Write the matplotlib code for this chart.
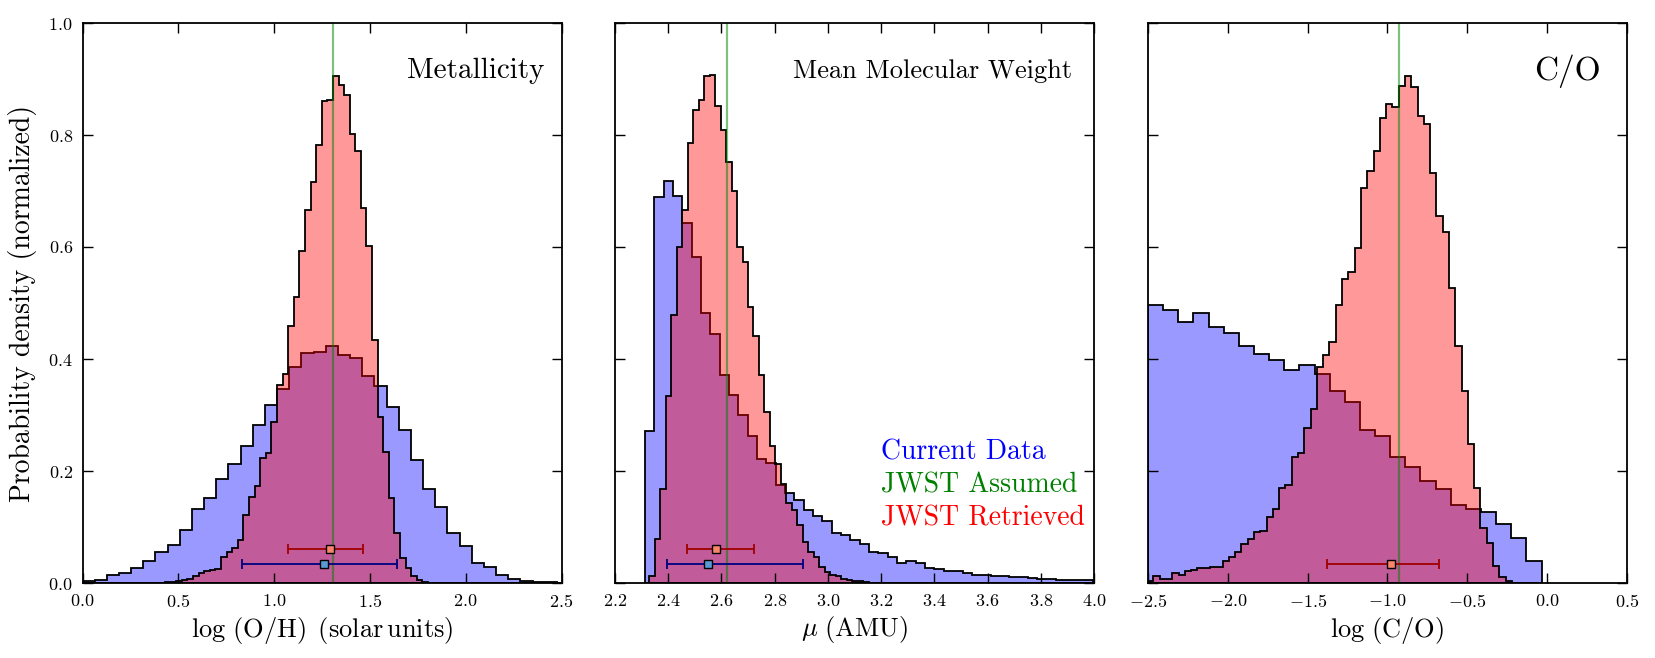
import numpy as np
import matplotlib
matplotlib.use('Agg')
from matplotlib import pyplot

pyplot.rcParams.update({
    'font.family': 'serif',
    'font.serif': ['cmr10', 'DejaVu Serif'],
    'mathtext.fontset': 'cm',
    'axes.formatter.use_mathtext': True,
    'axes.linewidth': 1.3,
})

# ---- Metallicity, log(O/H) ----
met_cur_start, met_cur_width = 0.0, 0.0635
met_cur = [0.003, 0.006, 0.015, 0.018, 0.026, 0.040, 0.055, 0.068, 0.094, 0.133,
           0.152, 0.186, 0.212, 0.245, 0.283, 0.317, 0.347, 0.385, 0.410, 0.413,
           0.423, 0.408, 0.401, 0.369, 0.351, 0.315, 0.273, 0.220, 0.167, 0.135,
           0.089, 0.066, 0.035, 0.029, 0.015, 0.008, 0.003, 0.001, 0.001, 0.0]
met_jw_start, met_jw_width = 0.431, 0.0292
met_jw = [0.001, 0.002, 0.003, 0.005, 0.008, 0.013, 0.018, 0.022, 0.024, 0.025,
          0.047, 0.056, 0.063, 0.076, 0.121, 0.153, 0.173, 0.223, 0.233, 0.288,
          0.353, 0.373, 0.459, 0.510, 0.593, 0.666, 0.716, 0.783, 0.860, 0.863,
          0.906, 0.889, 0.871, 0.801, 0.771, 0.670, 0.602, 0.434, 0.296, 0.234,
          0.152, 0.090, 0.044, 0.026, 0.012, 0.005, 0.002]

# ---- Mean molecular weight ----
mmw_cur_start, mmw_cur_width = 2.3125, 0.0351
mmw_cur = [0.272, 0.689, 0.717, 0.691, 0.643, 0.583, 0.483, 0.445, 0.371, 0.335,
           0.300, 0.263, 0.222, 0.215, 0.175, 0.160, 0.148, 0.131, 0.120, 0.110,
           0.090, 0.085, 0.077, 0.070, 0.056, 0.053, 0.046, 0.036, 0.039, 0.035,
           0.027, 0.025, 0.022, 0.021, 0.017, 0.015, 0.015, 0.013, 0.012, 0.010,
           0.010, 0.009, 0.008, 0.007, 0.006, 0.006, 0.005, 0.005, 0.004]
mmw_jw_start, mmw_jw_width = 2.329, 0.0206
mmw_jw = [0.012, 0.078, 0.167, 0.334, 0.478, 0.600, 0.666, 0.785, 0.845, 0.862,
          0.905, 0.907, 0.852, 0.809, 0.752, 0.700, 0.600, 0.574, 0.492, 0.441,
          0.372, 0.305, 0.244, 0.213, 0.176, 0.142, 0.131, 0.104, 0.073, 0.056,
          0.046, 0.029, 0.020, 0.015, 0.012, 0.008, 0.006, 0.004, 0.003, 0.002]

# ---- C/O ----
co_cur_start, co_cur_width = -2.5, 0.0948
co_cur = [0.496, 0.488, 0.466, 0.483, 0.458, 0.447, 0.424, 0.409, 0.399, 0.380,
          0.390, 0.374, 0.342, 0.323, 0.274, 0.262, 0.225, 0.207, 0.182, 0.167,
          0.140, 0.132, 0.127, 0.106, 0.081, 0.040]
co_jw_start, co_jw_width = -2.505, 0.03937
co_jw = [0.003, 0.012, 0.008, 0.008, 0.017, 0.015, 0.021, 0.024, 0.027, 0.027,
         0.028, 0.029, 0.039, 0.046, 0.056, 0.070, 0.078, 0.091, 0.093, 0.118,
         0.133, 0.169, 0.175, 0.225, 0.233, 0.277, 0.310, 0.386, 0.408, 0.431,
         0.496, 0.543, 0.556, 0.599, 0.705, 0.736, 0.771, 0.831, 0.856, 0.850,
         0.888, 0.906, 0.885, 0.834, 0.820, 0.733, 0.655, 0.627, 0.526, 0.423,
         0.342, 0.248, 0.170, 0.099, 0.072, 0.031, 0.010, 0.004]

# assumed (true) values and retrieved medians with 1-sigma ranges
truth = [1.305, 2.62, -0.925]
jw_point = [(1.29, 0.06, 0.22, 0.175), (2.581, 0.06, 0.112, 0.143), (-0.98, 0.034, 0.397, 0.30)]
cur_point = [(1.258, 0.034, 0.425, 0.383), (2.551, 0.034, 0.154, 0.357), None]

xlims = [(0.0, 2.5), (2.2, 4.0), (-2.5, 0.5)]
xticks = [np.arange(0.0, 2.51, 0.5), np.arange(2.2, 4.01, 0.2), np.arange(-2.5, 0.51, 0.5)]
xlabels = [r'$\log\,(\mathrm{O/H})\ \,(\mathrm{solar\,units})$', r'$\mu\ (\mathrm{AMU})$', r'$\log\,(\mathrm{C/O})$']
titles = ['Metallicity', 'Mean Molecular Weight', 'C/O']

current = [(met_cur_start, met_cur_width, met_cur), (mmw_cur_start, mmw_cur_width, mmw_cur),
           (co_cur_start, co_cur_width, co_cur)]
jwst = [(met_jw_start, met_jw_width, met_jw), (mmw_jw_start, mmw_jw_width, mmw_jw),
        (co_jw_start, co_jw_width, co_jw)]


def draw_hist(ax, start, width, vals, fc):
    vals = np.asarray(vals)
    edges = start + width * np.arange(len(vals) + 1)
    ax.hist(edges[:-1], bins=edges, weights=vals, histtype='stepfilled',
            facecolor=fc, edgecolor='k', linewidth=1.3)


fig = pyplot.figure(figsize=(16.55, 6.58), dpi=100)
lefts = [82.5 / 1655, 615 / 1655, 1148 / 1655]
for i in range(3):
    ax = fig.add_axes([lefts[i], 75 / 658, 479 / 1655, 560 / 658])
    draw_hist(ax, *current[i], fc=(0, 0, 1, 0.4))
    draw_hist(ax, *jwst[i], fc=(1, 0, 0, 0.4))
    ax.axvline(truth[i], color='g', alpha=0.5, lw=1.6)

    if cur_point[i] is not None:
        x, y, lo, hi = cur_point[i]
        ax.errorbar([x], [y], xerr=[[lo], [hi]], fmt='s', color='#000080', mfc='#5b9bd5',
                    mec='k', ms=6, capsize=3.5, elinewidth=1.3, capthick=1.3, zorder=5)
    x, y, lo, hi = jw_point[i]
    ax.errorbar([x], [y], xerr=[[lo], [hi]], fmt='s', color='#a00000', mfc='#f9856a',
                mec='k', ms=6, capsize=3.5, elinewidth=1.3, capthick=1.3, zorder=5)

    ax.set_xlim(*xlims[i])
    ax.set_ylim(0, 1.0)
    ax.set_xticks(xticks[i])
    ax.set_yticks(np.arange(0, 1.01, 0.2))
    ax.tick_params(direction='in', top=True, right=True, length=7, width=1.0,
                   labelsize=13, pad=7)
    ax.set_xlabel(xlabels[i], fontsize=19, labelpad=4)
    if i == 0:
        ax.set_ylabel('Probability density (normalized)', fontsize=20, labelpad=8)
    else:
        ax.tick_params(labelleft=False)

    size = [21, 19, 24][i]
    xpos = [0.965, 0.954, 0.946][i]
    ax.text(xpos, 0.914, titles[i], transform=ax.transAxes, ha='right', va='center',
            fontsize=size)

    if i == 1:
        for txt, col, yy in [('Current Data', 'blue', 0.234), ('JWST Assumed', 'green', 0.174),
                             ('JWST Retrieved', 'red', 0.116)]:
            ax.text(0.556, yy, txt, color=col, transform=ax.transAxes, ha='left',
                    va='center', fontsize=20)

pyplot.savefig('out.png', dpi=100)
